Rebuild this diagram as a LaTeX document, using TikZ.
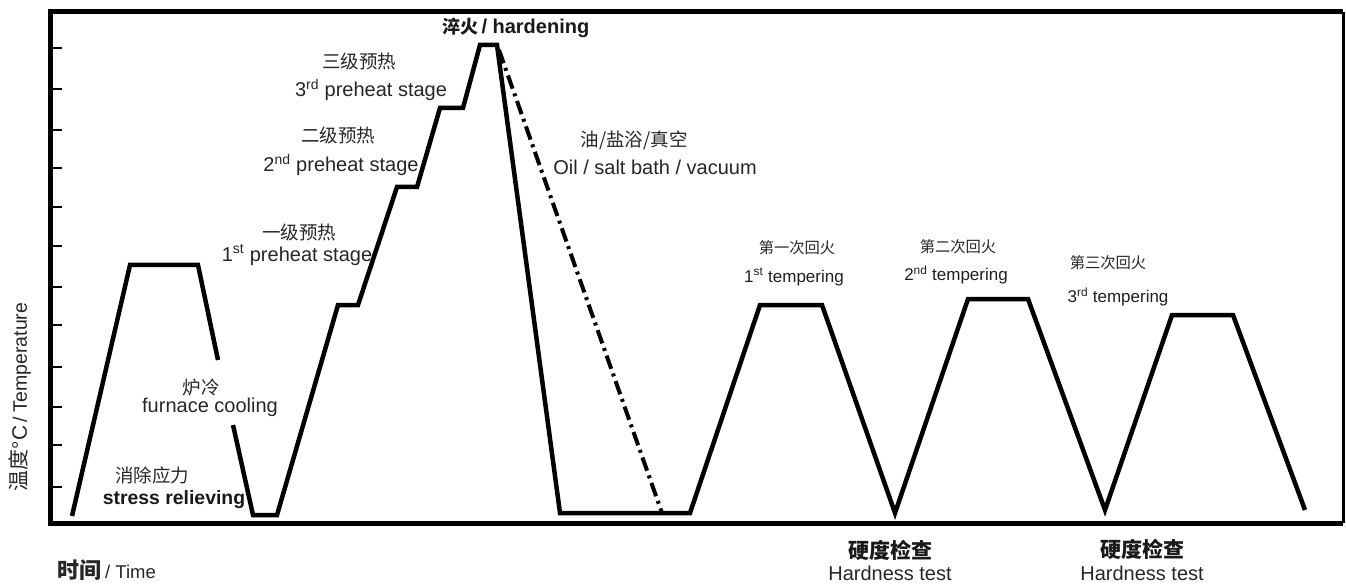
\documentclass[tikz,border=0pt]{standalone}
\usepackage{fontspec}
\setmainfont{Liberation Sans}
\newfontfamily\cjk{Noto Sans CJK SC}
\begin{document}
\begin{tikzpicture}[x=1pt,y=-1pt,
  curve/.style={line width=4.5pt, line join=miter, line cap=butt},
  frame/.style={line width=5pt},
  tick/.style={line width=2pt},
  en/.style={inner sep=0pt, text=black!85, font=\fontsize{20}{22}\selectfont},
  ent/.style={inner sep=0pt, text=black!88, font=\fontsize{17}{20}\selectfont},
  enb/.style={inner sep=0pt, text=black!90, font=\bfseries\fontsize{19.4}{22}\selectfont},
  zh/.style={inner sep=0pt, text=black!85, font=\cjk\fontsize{18.5}{20}\selectfont},
  zht/.style={inner sep=0pt, text=black!85, font=\cjk\fontsize{15.3}{18}\selectfont},
  zhb/.style={inner sep=0pt, text=black!90, font=\cjk\bfseries\fontsize{21}{22}\selectfont},
]
\useasboundingbox (0,0) rectangle (1346,585);
% frame
\coordinate (tl) at (50,12);
\coordinate (br) at (1343,523);
\draw[frame] (1343,12) -- (tl) -- (50,523) -- (br);
\draw[line width=3pt] (1343,12) -- (br);
% ticks
\foreach \yy in {48,89,130,168,207,246,287,325,367,407,445,487}
  \draw[tick] (50,\yy) -- (62,\yy);
% stress relieving + furnace cooling
\draw[curve] (72,516) -- (130,265) -- (198,265) -- (218,360);
\draw[curve] (233,425) -- (253,515) -- (277,515) -- (338,305) -- (358,305)
  -- (397,187) -- (417,187) -- (440,108) -- (463,108) -- (480,45) -- (497,45)
  -- (560,513) -- (690,513) -- (760,305) -- (822,305) -- (895,513)
  -- (968,299) -- (1028,299) -- (1105,510) -- (1172,315) -- (1233,315) -- (1305,510);
% oil / salt bath / vacuum
\draw[line width=4pt, dash pattern=on 14pt off 5pt on 3pt off 5pt] (499,50) -- (662,513);
% labels
\node[text=black!90, inner sep=0pt] (hard) at (516,28) {{\cjk\bfseries\fontsize{18}{20}\selectfont 淬火} {\fontsize{20}{22}\selectfont\bfseries / hardening}};
\node[zh] (p3zh) at (359,62) {三级预热};
\node[en] (p3en) at (371,90) {3\textsuperscript{rd} preheat stage};
\node[zh] (p2zh) at (338,135) {二级预热};
\node[en] (p2en) at (341,165) {2\textsuperscript{nd} preheat stage};
\node[zh] (p1zh) at (299,232) {一级预热};
\node[en] (p1en) at (297,255) {1\textsuperscript{st} preheat stage};
\node[zh] (fczh) at (201,387) {炉冷};
\node[en] (fcen) at (210,407) {furnace cooling};
\node[zh] (srzh) at (152,475) {消除应力};
\node[enb] (sren) at (174,500) {stress relieving};
\node[zh] (oilzh) at (634,140) {油/盐浴/真空};
\node[en] (oilen) at (655,167) {Oil / salt bath / vacuum};
\node[zht] (t1zh) at (797,248) {第一次回火};
\node[ent] (t1en) at (794,277) {1\textsuperscript{st} tempering};
\node[zht] (t2zh) at (958,247) {第二次回火};
\node[ent] (t2en) at (956,275) {2\textsuperscript{nd} tempering};
\node[zht] (t3zh) at (1108,263) {第三次回火};
\node[ent] (t3en) at (1118,297) {3\textsuperscript{rd} tempering};
\node[zhb] (h1zh) at (890,550) {硬度检查};
\node[en] (h1en) at (890,573) {Hardness test};
\node[zhb] (h2zh) at (1142,549) {硬度检查};
\node[en] (h2en) at (1142,573) {Hardness test};
\node[inner sep=0pt, rotate=90, text=black!85] (ylab) at (20,397)
  {{\cjk\fontsize{21}{22}\selectfont 温度}{\fontsize{21}{22}\selectfont °C} {\fontsize{19.5}{22}\selectfont / Temperature}};
\node[inner sep=0pt, anchor=west, text=black!85] (xlab) at (57,570)
  {{\cjk\bfseries\fontsize{22}{24}\selectfont 时间}\hspace{4pt}{\fontsize{18.5}{22}\selectfont / Time}};
\end{tikzpicture}
\end{document}
